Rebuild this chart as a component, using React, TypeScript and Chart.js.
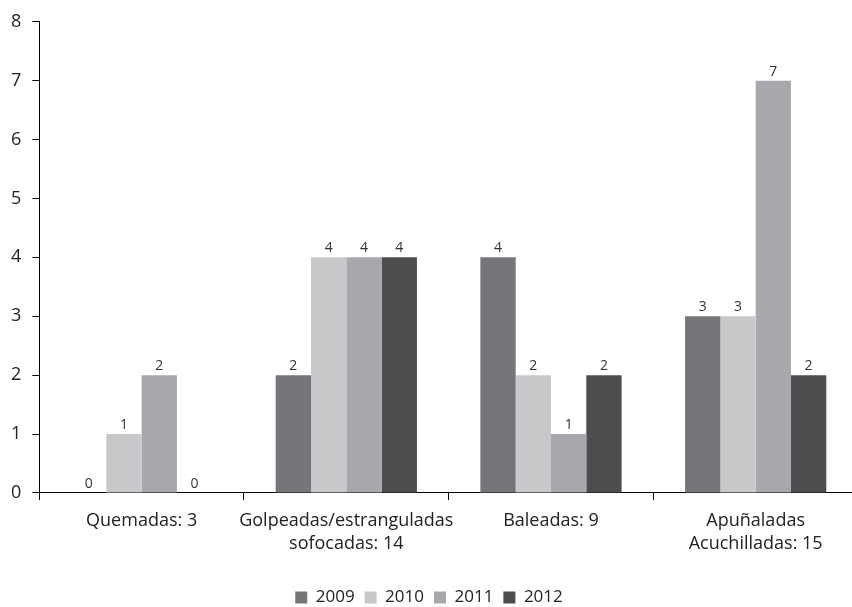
import React, { useEffect, useRef } from "react";
import { Chart, registerables } from "chart.js";

Chart.register(...registerables);

const categories: (string | string[])[] = [
  "Quemadas: 3",
  ["Golpeadas/estranguladas", "sofocadas: 14"],
  "Baleadas: 9",
  ["Apuñaladas", "Acuchilladas: 15"],
];
const years = ["2009", "2010", "2011", "2012"];
const values2009 = [0, 2, 4, 3];
const values2010 = [1, 4, 2, 3];
const values2011 = [2, 4, 1, 7];
const values2012 = [0, 4, 2, 2];
const colors = ["#76767a", "#c7c8ca", "#a7a8ab", "#4d4d4f"];

const FONT = "'Open Sans', Lato, sans-serif";

const labelPlugin = {
  id: "barLabels",
  afterDatasetsDraw(chart: any) {
    const ctx = chart.ctx;
    ctx.save();
    ctx.font = `14px ${FONT}`;
    ctx.fillStyle = "#333333";
    ctx.textAlign = "center";
    ctx.textBaseline = "alphabetic";
    chart.data.datasets.forEach((ds: any, i: number) => {
      const meta = chart.getDatasetMeta(i);
      meta.data.forEach((bar: any, j: number) => {
        ctx.fillText(String(ds.data[j]), bar.x, bar.y - 5);
      });
    });
    ctx.restore();
  },
};

export default function App() {
  const ref = useRef<HTMLCanvasElement>(null);
  useEffect(() => {
    if (!ref.current) return;
    const series = [values2009, values2010, values2011, values2012];
    const chart = new Chart(ref.current, {
      type: "bar",
      data: {
        labels: categories,
        datasets: years.map((y, i) => ({
          label: y,
          data: series[i],
          backgroundColor: colors[i],
          borderWidth: 0,
          categoryPercentage: 0.69,
          barPercentage: 1.0,
        })),
      },
      options: {
        animation: false,
        responsive: true,
        maintainAspectRatio: false,
        layout: { padding: { top: -2, right: 4, left: 0, bottom: 0 } },
        plugins: {
          tooltip: { enabled: false },
          legend: {
            position: "bottom",
            maxHeight: 43,
            title: { display: true, text: "", font: { size: 10 }, padding: { top: 3, bottom: 0 } },
            labels: {
              boxWidth: 12,
              boxHeight: 12,
              padding: 10,
              color: "#222",
              font: { family: FONT, size: 17 },
            },
          },
        },
        scales: {
          x: {
            offset: true,
            grid: {
              offset: true,
              drawOnChartArea: false,
              drawTicks: true,
              tickLength: 7,
              color: "#000",
            },
            border: { color: "#000", width: 1 },
            ticks: {
              color: "#222",
              font: { family: FONT, size: 18, lineHeight: 1.28 },
              padding: 9,
              maxRotation: 0,
              autoSkip: false,
            },
          },
          y: {
            min: 0,
            max: 8,
            grid: {
              drawOnChartArea: false,
              drawTicks: true,
              tickLength: 7,
              color: "#000",
            },
            border: { color: "#000", width: 1 },
            ticks: { stepSize: 1, color: "#222", font: { family: FONT, size: 18 }, padding: 11 },
          },
        },
      },
      plugins: [labelPlugin],
    });
    return () => chart.destroy();
  }, []);
  return (
    <div style={{ position: "fixed", left: 0, top: 0, width: 852, height: 607, overflow: "hidden" }}>
      <div style={{ position: "relative", width: 862, height: 607 }}>
        <canvas ref={ref} />
      </div>
    </div>
  );
}
